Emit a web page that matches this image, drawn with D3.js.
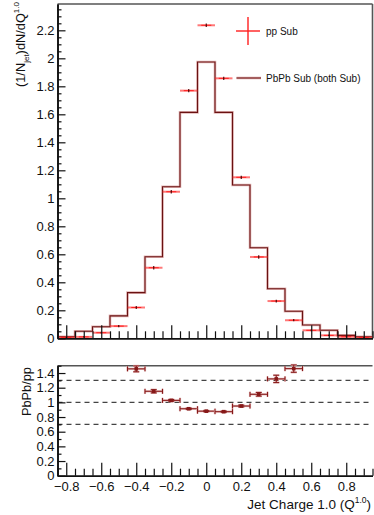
<!DOCTYPE html>
<html>
<head>
<meta charset="utf-8">
<script src="https://cdn.jsdelivr.net/npm/d3@7"></script>
<style>
  html, body { margin: 0; padding: 0; background: #fff; }
  svg { display: block; font-family: "Liberation Sans", Arial, sans-serif; }
</style>
</head>
<body>
<svg id="chart" width="374" height="515"></svg>
<script>
// Jet charge distributions: bin centres (bin width 0.1)
const binCenters = [-0.8, -0.7, -0.6, -0.5, -0.4, -0.3, -0.2, -0.1, 0.0, 0.1, 0.2, 0.3, 0.4, 0.5, 0.6, 0.7, 0.8, 0.9];
const binWidth = 0.1;

// PbPb (both subtracted) histogram
const pbpbValues = [0.011, 0.050, 0.083, 0.160, 0.326, 0.583, 1.083, 1.614, 1.974, 1.614, 1.095, 0.647, 0.354, 0.193, 0.095, 0.057, 0.021, 0.011];

// pp subtracted points and their statistical errors
const ppValues = [0.006, 0.010, 0.040, 0.087, 0.220, 0.504, 1.047, 1.769, 2.236, 1.857, 1.150, 0.581, 0.266, 0.129, 0.057, 0.021, 0.011, 0.005];
const ppErrors = [0.003, 0.004, 0.006, 0.008, 0.010, 0.012, 0.012, 0.012, 0.012, 0.012, 0.012, 0.012, 0.010, 0.008, 0.006, 0.004, 0.003, 0.003];

// PbPb / pp ratio (only bins inside the plotted range)
const ratioCenters = [-0.4, -0.3, -0.2, -0.1, 0.0, 0.1, 0.2, 0.3, 0.4, 0.5];
const ratioValues  = [1.457, 1.151, 1.027, 0.913, 0.880, 0.873, 0.950, 1.110, 1.320, 1.460];
const ratioErrors  = [0.040, 0.022, 0.012, 0.008, 0.007, 0.008, 0.012, 0.025, 0.050, 0.050];

// Reference lines in the ratio panel
const refLines = [0.7, 1.0, 1.3];

// Tick values
const xMajorTicks = [-0.8, -0.6, -0.4, -0.2, 0, 0.2, 0.4, 0.6, 0.8];
const yTopTicks = [0, 0.2, 0.4, 0.6, 0.8, 1, 1.2, 1.4, 1.6, 1.8, 2, 2.2];
const yBotTicks = [0, 0.2, 0.4, 0.6, 0.8, 1, 1.2, 1.4];

const svg = d3.select("#chart");
const fmt = d3.format("~g");

const xDomain = [-0.85, 0.95];
const x = d3.scaleLinear().domain(xDomain).range([57.5, 372.5]);
const yTop = d3.scaleLinear().domain([0, 2.388]).range([338.3, 4]);
const yBot = d3.scaleLinear().domain([0, 1.5]).range([475.7, 365.7]);

const histDark = "#6a1212";
const histHalo = "#e2b4b4";
const ratioCol = "#861818";
const ppRed = "#ff1f1f";

function range(a, b, step) {
  const out = [];
  for (let v = a; v <= b + 1e-9; v += step) out.push(Math.round(v * 1000) / 1000);
  return out;
}
const xMinorTicks = range(-0.85, 0.95, 0.05).filter(v => !xMajorTicks.some(t => Math.abs(t - v) < 1e-6));

// ---------- Distribution panel ----------
const mainG = svg.append("g");

// frame
mainG.append("line").attr("x1", x.range()[0]).attr("x2", x.range()[1]).attr("y1", 4).attr("y2", 4)
  .attr("stroke", "#555").attr("stroke-width", 1.6);
mainG.append("line").attr("x1", x.range()[1]).attr("x2", x.range()[1]).attr("y1", 4).attr("y2", yTop(0))
  .attr("stroke", "#555").attr("stroke-width", 1.6);

// histogram as steps
const edges = binCenters.map(c => c - binWidth / 2);
const stepPts = edges.map((e, i) => [e, pbpbValues[i]]);
stepPts.push([binCenters[binCenters.length - 1] + binWidth / 2, pbpbValues[pbpbValues.length - 1]]);
const stepLine = d3.line().x(d => x(d[0])).y(d => yTop(d[1])).curve(d3.curveStepAfter);
mainG.append("path").attr("d", stepLine(stepPts)).attr("fill", "none")
  .attr("stroke", histHalo).attr("stroke-width", 2.6);
mainG.append("path").attr("d", stepLine(stepPts)).attr("fill", "none")
  .attr("stroke", histDark).attr("stroke-width", 1.1);

// pp points
const ppG = mainG.append("g");
binCenters.forEach((c, i) => {
  const yv = yTop(ppValues[i]);
  ppG.append("line").attr("x1", x(c - binWidth / 2)).attr("x2", x(c + binWidth / 2))
    .attr("y1", yv).attr("y2", yv).attr("stroke", ppRed).attr("stroke-opacity", 0.6).attr("stroke-width", 2);
  ppG.append("line").attr("x1", x(c) - 5).attr("x2", x(c) + 5)
    .attr("y1", yv).attr("y2", yv).attr("stroke", ppRed).attr("stroke-width", 1);
  ppG.append("line").attr("x1", x(c)).attr("x2", x(c))
    .attr("y1", Math.min(yTop(ppValues[i] - ppErrors[i]), yTop(0))).attr("y2", yTop(ppValues[i] + ppErrors[i]))
    .attr("stroke", "#3a0000").attr("stroke-width", 1.1);
});

// axes
mainG.append("g").attr("transform", `translate(0,${yTop(0)})`)
  .call(d3.axisBottom(x).tickValues(xMinorTicks).tickSize(-7).tickSizeOuter(0).tickFormat(""));
mainG.append("g").attr("transform", `translate(0,${yTop(0)})`)
  .call(d3.axisBottom(x).tickValues(xMajorTicks).tickSize(-13).tickSizeOuter(0).tickFormat(""));

const yTopMinor = range(0, 2.35, 0.05).filter(v => !yTopTicks.some(t => Math.abs(t - v) < 1e-6));
mainG.append("g").attr("transform", `translate(${x.range()[0]},0)`)
  .call(d3.axisLeft(yTop).tickValues(yTopMinor).tickSize(-4).tickSizeOuter(0).tickFormat(""));
mainG.append("g").attr("transform", `translate(${x.range()[0]},0)`)
  .call(d3.axisLeft(yTop).tickValues(yTopTicks).tickSize(-8).tickSizeOuter(0).tickPadding(3).tickFormat(fmt));

// y title
const yTitle = mainG.append("text").attr("transform", "translate(25,2) rotate(-90)")
  .attr("text-anchor", "end").attr("font-size", 12.8).attr("fill", "#111");
yTitle.append("tspan").text("(1/N");
yTitle.append("tspan").attr("font-size", 8).attr("dy", 3.5).text("jet");
yTitle.append("tspan").attr("dy", -3.5).text(")dN/dQ");
yTitle.append("tspan").attr("font-size", 8).attr("dy", -6).text("1.0");

// legend
const leg = mainG.append("g");
leg.append("line").attr("x1", 236).attr("x2", 260).attr("y1", 31).attr("y2", 31).attr("stroke", ppRed).attr("stroke-width", 1.4);
leg.append("line").attr("x1", 248).attr("x2", 248).attr("y1", 17).attr("y2", 45).attr("stroke", ppRed).attr("stroke-width", 1.4);
leg.append("text").attr("x", 266).attr("y", 34.5).attr("font-size", 10).attr("fill", "#111").text("pp Sub");
leg.append("line").attr("x1", 236.5).attr("x2", 261).attr("y1", 78).attr("y2", 78).attr("stroke", histHalo).attr("stroke-width", 2.6);
leg.append("line").attr("x1", 236.5).attr("x2", 261).attr("y1", 78).attr("y2", 78).attr("stroke", "#8a3a3a").attr("stroke-width", 1.4);
leg.append("text").attr("x", 266).attr("y", 81.5).attr("font-size", 10).attr("fill", "#111").text("PbPb Sub (both Sub)");

// ---------- Ratio panel ----------
const ratioG = svg.append("g");
ratioG.append("line").attr("x1", x.range()[0]).attr("x2", x.range()[1]).attr("y1", yBot(1.5)).attr("y2", yBot(1.5))
  .attr("stroke", "#555").attr("stroke-width", 1.6);

refLines.forEach(v => {
  ratioG.append("line").attr("x1", x.range()[0]).attr("x2", x.range()[1]).attr("y1", yBot(v)).attr("y2", yBot(v))
    .attr("stroke", "#444").attr("stroke-width", 1.4).attr("stroke-dasharray", "5,4");
});

const rG = ratioG.append("g");
ratioCenters.forEach((c, i) => {
  const yv = yBot(ratioValues[i]);
  const x0 = x(c - binWidth / 2), x1 = x(c + binWidth / 2), xc = x(c);
  const yHi = yBot(ratioValues[i] + ratioErrors[i]), yLo = yBot(ratioValues[i] - ratioErrors[i]);
  [[histHalo, 2.2], [ratioCol, 1]].forEach(([col, w]) => {
    rG.append("line").attr("x1", x0).attr("x2", x1).attr("y1", yv).attr("y2", yv).attr("stroke", col).attr("stroke-width", w);
    rG.append("line").attr("x1", x0).attr("x2", x0).attr("y1", yv - 2.5).attr("y2", yv + 2.5).attr("stroke", col).attr("stroke-width", w);
    rG.append("line").attr("x1", x1).attr("x2", x1).attr("y1", yv - 2.5).attr("y2", yv + 2.5).attr("stroke", col).attr("stroke-width", w);
    rG.append("line").attr("x1", xc).attr("x2", xc).attr("y1", yLo).attr("y2", yHi).attr("stroke", col).attr("stroke-width", w);
    rG.append("line").attr("x1", xc - 3).attr("x2", xc + 3).attr("y1", yHi).attr("y2", yHi).attr("stroke", col).attr("stroke-width", w);
    rG.append("line").attr("x1", xc - 3).attr("x2", xc + 3).attr("y1", yLo).attr("y2", yLo).attr("stroke", col).attr("stroke-width", w);
  });
  rG.append("rect").attr("x", xc - 1.8).attr("y", yv - 1.8).attr("width", 3.6).attr("height", 3.6).attr("fill", ratioCol);
});

// axes
ratioG.append("g").attr("transform", `translate(0,${yBot(0)})`)
  .call(d3.axisBottom(x).tickValues(xMinorTicks).tickSize(-7).tickSizeOuter(0).tickFormat(""));
ratioG.append("g").attr("transform", `translate(0,${yBot(0)})`)
  .call(d3.axisBottom(x).tickValues(xMajorTicks).tickSize(-13).tickSizeOuter(0).tickPadding(6).tickFormat(fmt));

const yBotMinor = range(0, 1.5, 0.1).filter(v => !yBotTicks.some(t => Math.abs(t - v) < 1e-6));
ratioG.append("g").attr("transform", `translate(${x.range()[0]},0)`)
  .call(d3.axisLeft(yBot).tickValues(yBotMinor).tickSize(-4).tickSizeOuter(0).tickFormat(""));
ratioG.append("g").attr("transform", `translate(${x.range()[0]},0)`)
  .call(d3.axisLeft(yBot).tickValues(yBotTicks).tickSize(-8).tickSizeOuter(0).tickPadding(3).tickFormat(fmt));

ratioG.append("text").attr("transform", "translate(31,367) rotate(-90)")
  .attr("text-anchor", "end").attr("font-size", 12.8).attr("fill", "#111").text("PbPb/pp");

const xTitle = ratioG.append("text").attr("x", 371).attr("y", 509).attr("text-anchor", "end")
  .attr("font-size", 13.5).attr("fill", "#111");
xTitle.append("tspan").text("Jet Charge 1.0 (Q");
xTitle.append("tspan").attr("font-size", 8.5).attr("dy", -6).text("1.0");
xTitle.append("tspan").attr("dy", 6).text(")");

// axis styling
svg.selectAll(".domain").attr("stroke", "#111").attr("stroke-width", 1.6);
svg.selectAll(".tick line").attr("stroke", "#111").attr("stroke-width", 1.2);
svg.selectAll(".tick text").attr("font-size", 13).attr("fill", "#111")
  .attr("font-family", "'Liberation Sans', Arial, sans-serif");
</script>
</body>
</html>
